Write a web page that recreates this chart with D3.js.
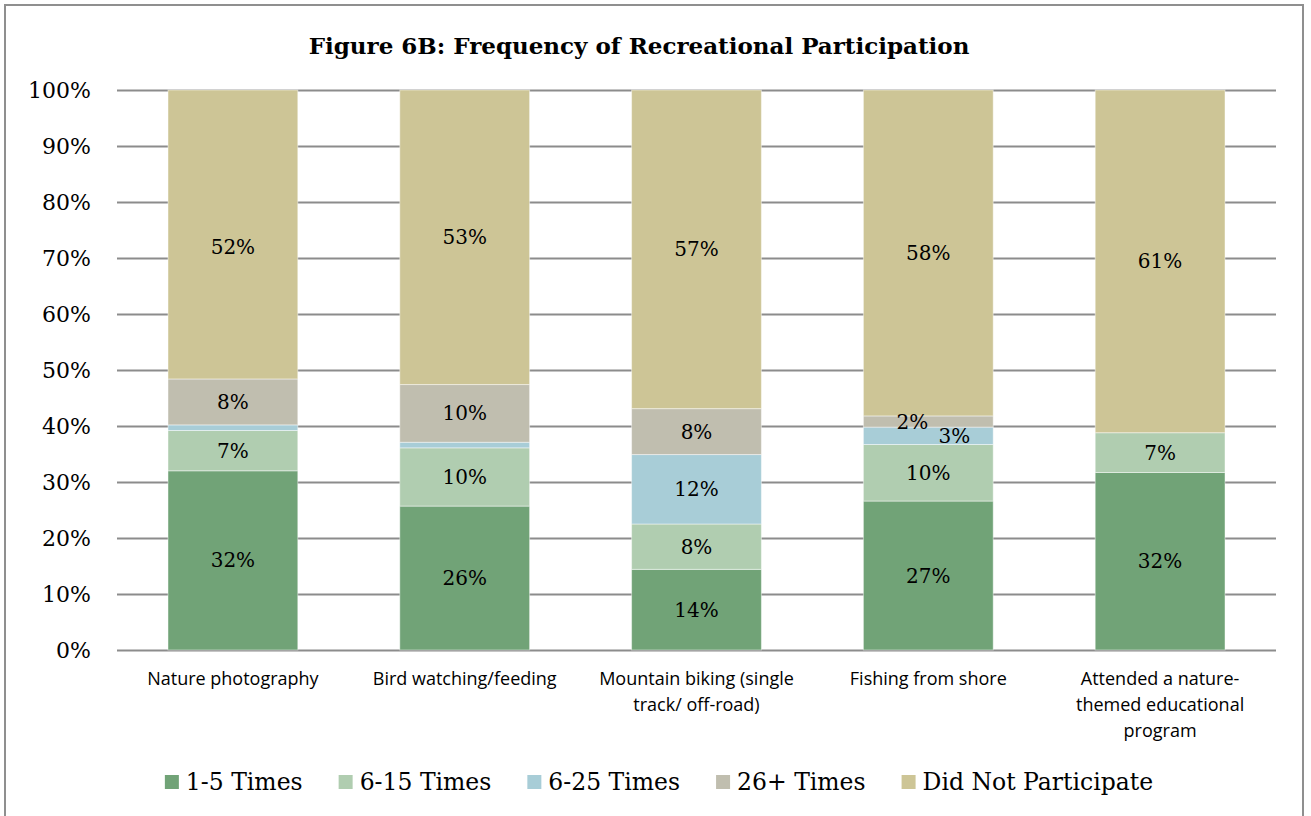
<!DOCTYPE html>
<html>
<head>
<meta charset="utf-8">
<script src="https://cdn.jsdelivr.net/npm/d3@7"></script>
<style>
  html, body { margin: 0; padding: 0; background: #ffffff; }
  svg { display: block; }
</style>
</head>
<body>
<svg id="chart" width="1311" height="816"></svg>
<script>
// Activities (x categories) and their wrapped label lines
const categories = [
  "Nature photography",
  "Bird watching/feeding",
  "Mountain biking (single track/ off-road)",
  "Fishing from shore",
  "Attended a nature-themed educational program"
];
const categoryLines = [
  ["Nature photography"],
  ["Bird watching/feeding"],
  ["Mountain biking (single", "track/ off-road)"],
  ["Fishing from shore"],
  ["Attended a nature-", "themed educational", "program"]
];

// Frequency groups, bottom to top of each stack
const seriesNames = ["1-5 Times", "6-15 Times", "6-25 Times", "26+ Times", "Did Not Participate"];
const seriesColors = ["#71a377", "#b0cdb0", "#a8cdd7", "#c0beaf", "#cdc596"];

// Share of respondents (%) per activity
const times1to5         = [32.0, 25.7, 14.4, 26.6, 31.7];
const times6to15        = [7.2, 10.4, 8.1, 10.1, 7.1];
const times6to25        = [1.0, 1.0, 12.4, 3.1, 0];
const times26plus       = [8.2, 10.3, 8.2, 2.0, 0];
const didNotParticipate = [51.6, 52.6, 56.9, 58.2, 61.2];

const yTicks = [0, 10, 20, 30, 40, 50, 60, 70, 80, 90, 100];
const titleText = "Figure 6B: Frequency of Recreational Participation";

const seriesValues = [times1to5, times6to15, times6to25, times26plus, didNotParticipate];
const rows = categories.map((c, i) => {
  const r = { category: c };
  seriesNames.forEach((s, k) => { r[s] = seriesValues[k][i]; });
  return r;
});

const svg = d3.select("#chart");
const serif = "'DejaVu Serif', 'Liberation Serif', serif";
const sans = "'Open Sans', 'Noto Sans', sans-serif";

// outer frame
svg.append("rect")
  .attr("x", 5).attr("y", 5).attr("width", 1298).attr("height", 830)
  .attr("fill", "#ffffff").attr("stroke", "#8f8f8f").attr("stroke-width", 2);

const x = d3.scaleBand()
  .domain(categories)
  .range([117, 1276])
  .paddingInner(0.44)
  .paddingOuter(0.22);

const y = d3.scaleLinear().domain([0, 100]).range([650, 90]);

// title
svg.append("text")
  .attr("x", 639).attr("y", 54)
  .attr("text-anchor", "middle")
  .attr("font-family", serif).attr("font-weight", "bold").attr("font-size", 23)
  .attr("fill", "#000")
  .text(titleText);

// horizontal gridlines + tick labels
const yAxis = d3.axisLeft(y).tickValues(yTicks)
  .tickSize(-(1276 - 117)).tickPadding(26)
  .tickFormat(d => d + "%");
const gy = svg.append("g").attr("transform", "translate(117,0)").call(yAxis);
gy.select(".domain").remove();
gy.selectAll(".tick line").attr("stroke", "#8c8c8c").attr("stroke-width", 2);
gy.selectAll(".tick text")
  .attr("font-family", serif).attr("font-size", 22).attr("fill", "#000");

// stacked bars
const stack = d3.stack().keys(seriesNames);
const layers = stack(rows);

const layerG = svg.append("g").selectAll("g")
  .data(layers).join("g")
  .attr("fill", (d, i) => seriesColors[i]);

layerG.selectAll("rect")
  .data(d => d)
  .join("rect")
  .attr("x", d => x(d.data.category))
  .attr("width", x.bandwidth())
  .attr("y", d => y(d[1]))
  .attr("height", d => y(d[0]) - y(d[1]))
  .attr("stroke", "rgba(255,255,255,0.45)")
  .attr("stroke-width", d => (d[1] - d[0]) > 0 ? 1 : 0);

// per-label nudges for crowded segments: key = "series|categoryIndex"
const labelNudge = {
  "Did Not Participate|0": [0, 13],
  "26+ Times|3": [-16, 0],
  "6-25 Times|3": [26, 0]
};

const labels = [];
layers.forEach(layer => {
  layer.forEach((d, i) => {
    const v = d[1] - d[0];
    if (Math.round(v) >= 2) {
      const n = labelNudge[layer.key + "|" + i] || [0, 0];
      labels.push({
        x: x(d.data.category) + x.bandwidth() / 2 + n[0],
        y: (y(d[0]) + y(d[1])) / 2 + n[1],
        text: Math.round(v) + "%"
      });
    }
  });
});

svg.append("g").selectAll("text")
  .data(labels).join("text")
  .attr("x", d => d.x).attr("y", d => d.y)
  .attr("dy", "0.35em")
  .attr("text-anchor", "middle")
  .attr("font-family", serif).attr("font-size", 20).attr("fill", "#000")
  .text(d => d.text);

// category labels
const catG = svg.append("g").selectAll("text")
  .data(categories).join("text")
  .attr("x", d => x(d) + x.bandwidth() / 2)
  .attr("y", 685)
  .attr("text-anchor", "middle")
  .attr("font-family", sans).attr("font-size", 18).attr("fill", "#000");
catG.each(function(d, i) {
  d3.select(this).selectAll("tspan")
    .data(categoryLines[i]).join("tspan")
    .attr("x", x(d) + x.bandwidth() / 2)
    .attr("dy", (t, j) => j === 0 ? 0 : 26)
    .text(t => t);
});

// legend
const legend = svg.append("g");
const items = legend.selectAll("g").data(seriesNames).join("g");
items.append("rect")
  .attr("width", 14).attr("height", 14)
  .attr("y", -7)
  .attr("fill", (d, i) => seriesColors[i]);
items.append("text")
  .attr("x", 21).attr("dy", "0.36em")
  .attr("font-family", serif).attr("font-size", 23.5).attr("fill", "#000")
  .text(d => d);

let cursor = 0;
const gap = 36;
items.each(function() {
  const w = 21 + d3.select(this).select("text").node().getComputedTextLength();
  d3.select(this).attr("transform", `translate(${cursor},0)`);
  cursor += w + gap;
});
const total = cursor - gap;
legend.attr("transform", `translate(${659 - total / 2},782)`);
</script>
</body>
</html>
